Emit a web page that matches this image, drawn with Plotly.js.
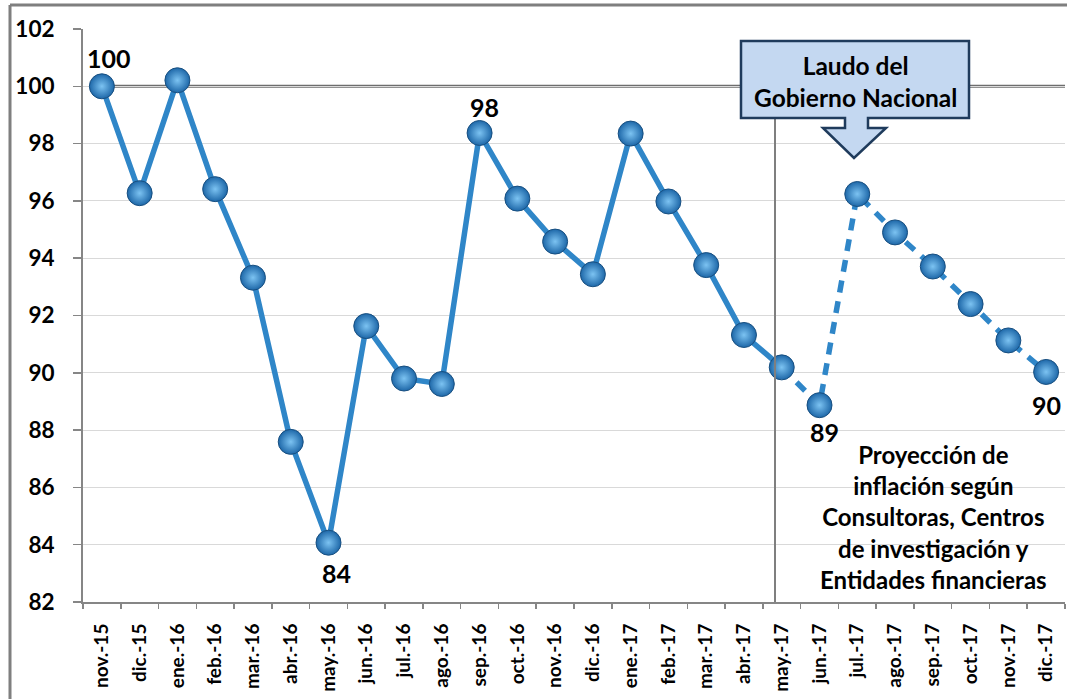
<!DOCTYPE html>
<html>
<head>
<meta charset="utf-8">
<script src="https://cdn.plot.ly/plotly-3.0.1.min.js"></script>
<style>
  html, body { margin: 0; padding: 0; background: #fff; }
  #chart { width: 1067px; height: 699px; }
</style>
</head>
<body>
<div id="chart"></div>
<script>
// ---- data ----
const months = ['nov.-15','dic.-15','ene.-16','feb.-16','mar.-16','abr.-16','may.-16','jun.-16','jul.-16','ago.-16','sep.-16','oct.-16','nov.-16','dic.-16','ene.-17','feb.-17','mar.-17','abr.-17','may.-17','jun.-17','jul.-17','ago.-17','sep.-17','oct.-17','nov.-17','dic.-17'];
const values = [100.0, 96.27, 100.21, 96.41, 93.32, 87.59, 84.07, 91.63, 89.80, 89.61, 98.37, 96.08, 94.58, 93.44, 98.35, 95.98, 93.76, 91.32, 90.19, 88.87, 96.24, 94.90, 93.71, 92.40, 91.13, 90.03];
const lastActual = 'may.-17';
const referenceLevel = 100;
const labelled = ['nov.-15', 'sep.-16', 'may.-16', 'jun.-17', 'dic.-17'];
const yTicks = [82, 84, 86, 88, 90, 92, 94, 96, 98, 100, 102];

// ---- layout helpers ----
const W = 1067, H = 699;
const M = {l: 83, r: 2, t: 29, b: 97};
const PW = W - M.l - M.r, PH = H - M.t - M.b;
const px = x => (x - M.l) / PW;
const py = y => 1 - (y - M.t) / PH;

const FONT = 'Lato, "Open Sans", "DejaVu Sans", sans-serif';
const LINE = '#2f86c8';
const cut = months.indexOf(lastActual);

const actualX = months.slice(0, cut + 1), actualY = values.slice(0, cut + 1);
const projX = months.slice(cut), projY = values.slice(cut);

const traces = [
  {x: actualX, y: actualY, type: 'scatter', mode: 'lines',
   line: {color: LINE, width: 5.5}, hoverinfo: 'skip', showlegend: false},
  {x: projX, y: projY, type: 'scatter', mode: 'lines',
   line: {color: LINE, width: 5.5, dash: '12px,9px'}, hoverinfo: 'skip', showlegend: false},
  {x: months, y: values, type: 'scatter', mode: 'markers',
   marker: {size: 25, color: '#1d67a8',
            gradient: {type: 'radial', color: '#7cc3f2'},
            line: {color: '#184f80', width: 1}},
   showlegend: false, cliponaxis: false}
];

// data labels
const shifts = {
  'nov.-15': [7, 28], 'sep.-16': [5, 26], 'may.-16': [8, -30],
  'jun.-17': [5, -27], 'dic.-17': [0, -33]
};
const annotations = labelled.map(m => {
  const i = months.indexOf(m);
  return {x: m, y: values[i], xref: 'x', yref: 'y', text: String(Math.round(values[i])),
          showarrow: false, xshift: shifts[m][0], yshift: shifts[m][1],
          xanchor: 'center', yanchor: 'middle',
          font: {family: FONT, size: 25, color: '#000', weight: 'bold'}};
});

annotations.push({
  xref: 'paper', yref: 'paper', x: px(855), y: py(81), showarrow: false,
  xanchor: 'center', yanchor: 'middle',
  text: 'Laudo del<br>Gobierno Nacional',
  font: {family: FONT, size: 24.5, color: '#000', weight: 'bold'}
});
annotations.push({
  xref: 'paper', yref: 'paper', x: px(933), y: py(517), showarrow: false,
  xanchor: 'center', yanchor: 'middle',
  text: 'Proyección de<br>inflación según<br>Consultoras, Centros<br>de investigación y<br>Entidades financieras',
  font: {family: FONT, size: 24, color: '#000', weight: 'bold'}
});

// callout path (box + arrow) in pixel coordinates
const callout = [[741,41],[969,41],[969,118],[868,118],[868,128],[886,128],[854,158],[823,128],[845,128],[845,118],[741,118]];
const path = 'M ' + callout.map(p => px(p[0]) + ',' + py(p[1])).join(' L ') + ' Z';

const shapes = [
  // reference line at 100
  {type: 'line', xref: 'x', yref: 'y', x0: 0, x1: 25.5, y0: referenceLevel, y1: referenceLevel,
   line: {color: '#6e6e6e', width: 3}, layer: 'below'},
  // vertical separator
  {type: 'line', xref: 'paper', yref: 'paper', x0: px(775), x1: px(775), y0: 0, y1: py(118),
   line: {color: '#7f7f7f', width: 2}, layer: 'above'},
  // callout
  {type: 'path', xref: 'paper', yref: 'paper', path: path,
   fillcolor: '#c4d8f1', line: {color: '#1f3b5c', width: 2.5}, layer: 'above'},
  // outer frame
  {type: 'line', xref: 'paper', yref: 'paper', x0: px(10), x1: px(10), y0: py(5), y1: py(705),
   line: {color: '#7f7f7f', width: 3}},
  {type: 'line', xref: 'paper', yref: 'paper', x0: px(10), x1: px(1070), y0: py(5), y1: py(5),
   line: {color: '#7f7f7f', width: 3}}
];

const layout = {
  width: W, height: H,
  margin: M,
  paper_bgcolor: '#fff', plot_bgcolor: '#fff',
  showlegend: false,
  xaxis: {
    type: 'category', categoryorder: 'array', categoryarray: months,
    range: [-0.5, 25.5], tickson: 'boundaries', ticks: 'outside', ticklen: 5,
    tickcolor: '#868686', tickwidth: 1.5, showgrid: false,
    showline: true, linecolor: '#868686', linewidth: 2,
    ticklabelstandoff: 12,
    tickangle: -90, tickfont: {family: FONT, size: 19, color: '#000', weight: 'bold'},
    fixedrange: true
  },
  yaxis: {
    range: [82, 102], tickvals: yTicks, ticktext: yTicks.map(String),
    ticks: 'outside', ticklen: 8, tickcolor: '#868686', tickwidth: 1.5,
    showgrid: true, gridcolor: '#d9d9d9', gridwidth: 1, zeroline: false,
    showline: true, linecolor: '#868686', linewidth: 2,
    ticklabelstandoff: 14,
    tickfont: {family: FONT, size: 22.5, color: '#000', weight: 'bold'},
    fixedrange: true
  },
  shapes: shapes,
  annotations: annotations
};

Plotly.newPlot('chart', traces, layout, {displayModeBar: false, staticPlot: true});
</script>
</body>
</html>
